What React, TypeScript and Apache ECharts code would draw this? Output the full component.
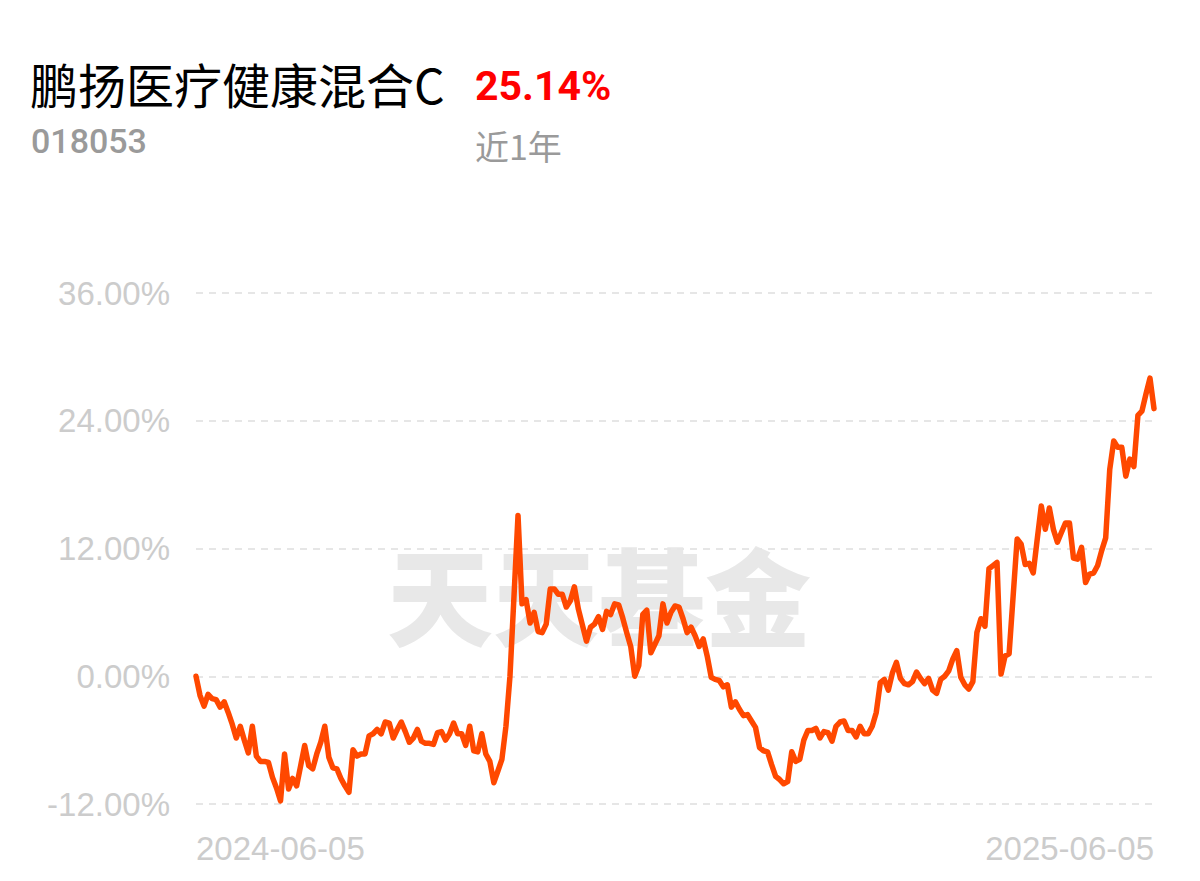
import React, { useEffect, useRef } from "react";
import * as echarts from "echarts";

const fundName = "鹏扬医疗健康混合C";
const fundCode = "018053";
const periodReturn = "25.14%";
const periodLabel = "近1年";
const watermark = "天天基金";

const xTickLabels = ["2024-06-05", "2025-06-05"];
const yTicks = [-12, 0, 12, 24, 36];

// cumulative return (%) per trading day
const returns1 = [
  0.0, -1.8, -2.8, -1.7, -2.1, -2.2, -2.9, -2.4, -3.4, -4.5, -5.8, -4.7, -6.0, -7.2, -4.7, -7.5, -8.0, -8.0, -8.1, -9.5,
  -10.5, -11.7, -7.3, -10.6, -9.6, -10.3, -8.4, -6.5, -8.4, -8.7, -7.3, -6.2, -4.7, -7.6, -8.6, -8.7, -9.6, -10.3, -10.9,
];
const returns2 = [
  -6.9, -7.5, -7.3, -7.3, -5.6, -5.4, -5.0, -5.4, -4.3, -4.4, -5.8, -5.0, -4.3, -5.2, -6.2, -5.8, -5.0, -6.1, -6.3, -6.3,
  -6.4, -5.3, -5.2, -6.0, -5.4, -4.4, -5.4, -5.4, -6.5, -4.7, -7.0, -7.1, -5.4, -7.3, -8.0, -10.0,
];
const returns3 = [
  -8.9, -7.8, -4.7, 0.0, 7.5, 15.1, 6.8, 7.2, 5.0, 6.0, 4.2, 4.1, 4.9, 8.2, 8.2, 7.7, 7.7, 6.5, 7.1, 8.4,
  6.3, 4.8, 3.3, 4.6, 4.9, 5.6, 4.4, 6.1, 5.8, 6.8, 6.7, 5.5, 4.1, 2.8, 0.0, 1.0,
];
const returns4 = [
  5.8, 6.2, 2.2, 3.0, 3.8, 6.8, 5.0, 6.0, 6.6, 6.5, 5.4, 4.1, 4.6, 3.8, 2.8, 3.5, 1.9, -0.1, -0.3, -0.4,
  -1.0, -0.8, -2.9, -2.4, -3.1, -3.7, -3.6, -4.2, -4.8, -6.7, -7.0, -7.1, -8.3, -9.4, -9.7, -10.1, -9.9,
];
const returns5 = [
  -7.1, -8.0, -7.8, -6.0, -5.1, -5.1, -4.9, -5.8, -5.2, -5.3, -6.1, -4.7, -4.3, -4.2, -5.1, -5.1, -5.7, -4.7, -5.4, -5.4,
  -4.7, -3.4, -0.6, -0.3, -1.3, 0.3, 1.3, -0.2, -0.7, -0.8, -0.5, 0.4, -0.2, -0.7, -0.2, -1.3, -1.6, -0.3, 0.0, 0.5,
  1.6, 2.4, -0.1,
];
const returns6 = [
  -0.8, -1.2, -0.5, 4.1, 5.4, 4.7, 10.1, 10.4, 10.7, 0.2, 1.9, 2.1, 7.5, 12.9, 12.4, 10.5, 10.6, 9.7, 12.9, 16.0,
  13.8, 15.8, 13.8, 12.6, 13.5, 14.4, 14.4, 11.1, 11.0, 12.1, 8.8, 9.6, 9.7, 10.4, 11.8, 13.0, 19.4, 22.1, 21.5, 21.5,
  18.8, 20.4, 19.7, 24.5, 24.9, 26.5, 28.0, 25.14,
];

const returns = [...returns1, ...returns2, ...returns3, ...returns4, ...returns5, ...returns6];
const categories = returns.map((_, i) => String(i));

export default function App() {
  const ref = useRef<HTMLDivElement>(null);

  useEffect(() => {
    if (!ref.current) return;
    const chart = echarts.init(ref.current, undefined, { renderer: "svg" });
    const last = categories.length - 1;
    chart.setOption({
      animation: false,
      backgroundColor: "#ffffff",
      grid: { left: 196, right: 46, top: 293, bottom: 77, containLabel: false },
      graphic: [
        {
          type: "text",
          left: 30,
          top: 59,
          z: 10,
          style: {
            text: fundName,
            fill: "#000000",
            fontSize: 48,
            fontFamily: "Noto Sans CJK SC",
          },
        },
        {
          type: "text",
          left: 475,
          top: 65,
          z: 10,
          style: {
            text: periodReturn,
            fill: "#ff0000",
            fontSize: 41,
            fontWeight: "bold",
            fontFamily: "Roboto",
          },
        },
        {
          type: "text",
          left: 31,
          top: 124,
          z: 10,
          style: {
            text: fundCode,
            fill: "#9a9a9a",
            fontSize: 34,
            fontWeight: 500,
            fontFamily: "Roboto",
          },
        },
        {
          type: "text",
          left: 475,
          top: 128,
          z: 10,
          style: {
            text: periodLabel,
            fill: "#9a9a9a",
            fontSize: 34,
            fontFamily: "Noto Sans CJK SC",
          },
        },
        {
          type: "text",
          x: 599,
          y: 592,
          z: -10,
          zlevel: 0,
          style: {
            text: watermark,
            fill: "#e8e8e8",
            fontSize: 106,
            fontWeight: 900,
            fontFamily: "Noto Sans CJK SC",
            align: "center",
            verticalAlign: "middle",
          },
        },
      ],
      xAxis: {
        type: "category",
        data: categories,
        boundaryGap: false,
        axisLine: { show: false },
        axisTick: { show: false },
        splitLine: { show: false },
        axisLabel: {
          interval: (index: number) => index === 0 || index === last,
          formatter: (_v: string, index: number) =>
            index === 0 ? xTickLabels[0] : index === last ? xTickLabels[1] : "",
          alignMinLabel: "left",
          alignMaxLabel: "right",
          color: "#cccccc",
          fontSize: 33,
          fontFamily: "Liberation Sans",
          margin: 28,
        },
      },
      yAxis: {
        type: "value",
        min: yTicks[0],
        max: yTicks[yTicks.length - 1],
        interval: 12,
        axisLine: { show: false },
        axisTick: { show: false },
        axisLabel: {
          formatter: (v: number) => v.toFixed(2) + "%",
          color: "#cccccc",
          fontSize: 33,
          fontFamily: "Liberation Sans",
          margin: 26,
        },
        splitLine: {
          show: true,
          lineStyle: { color: "#e6e6e6", width: 2, type: [7, 6] },
        },
      },
      series: [
        {
          type: "line",
          data: returns,
          showSymbol: false,
          symbol: "none",
          smooth: false,
          z: 5,
          lineStyle: { color: "#ff4800", width: 5.5, cap: "round", join: "round" },
        },
      ],
    });
    return () => chart.dispose();
  }, []);

  return (
    <div
      ref={ref}
      style={{ position: "absolute", left: 0, top: 0, width: 1200, height: 881 }}
    />
  );
}
